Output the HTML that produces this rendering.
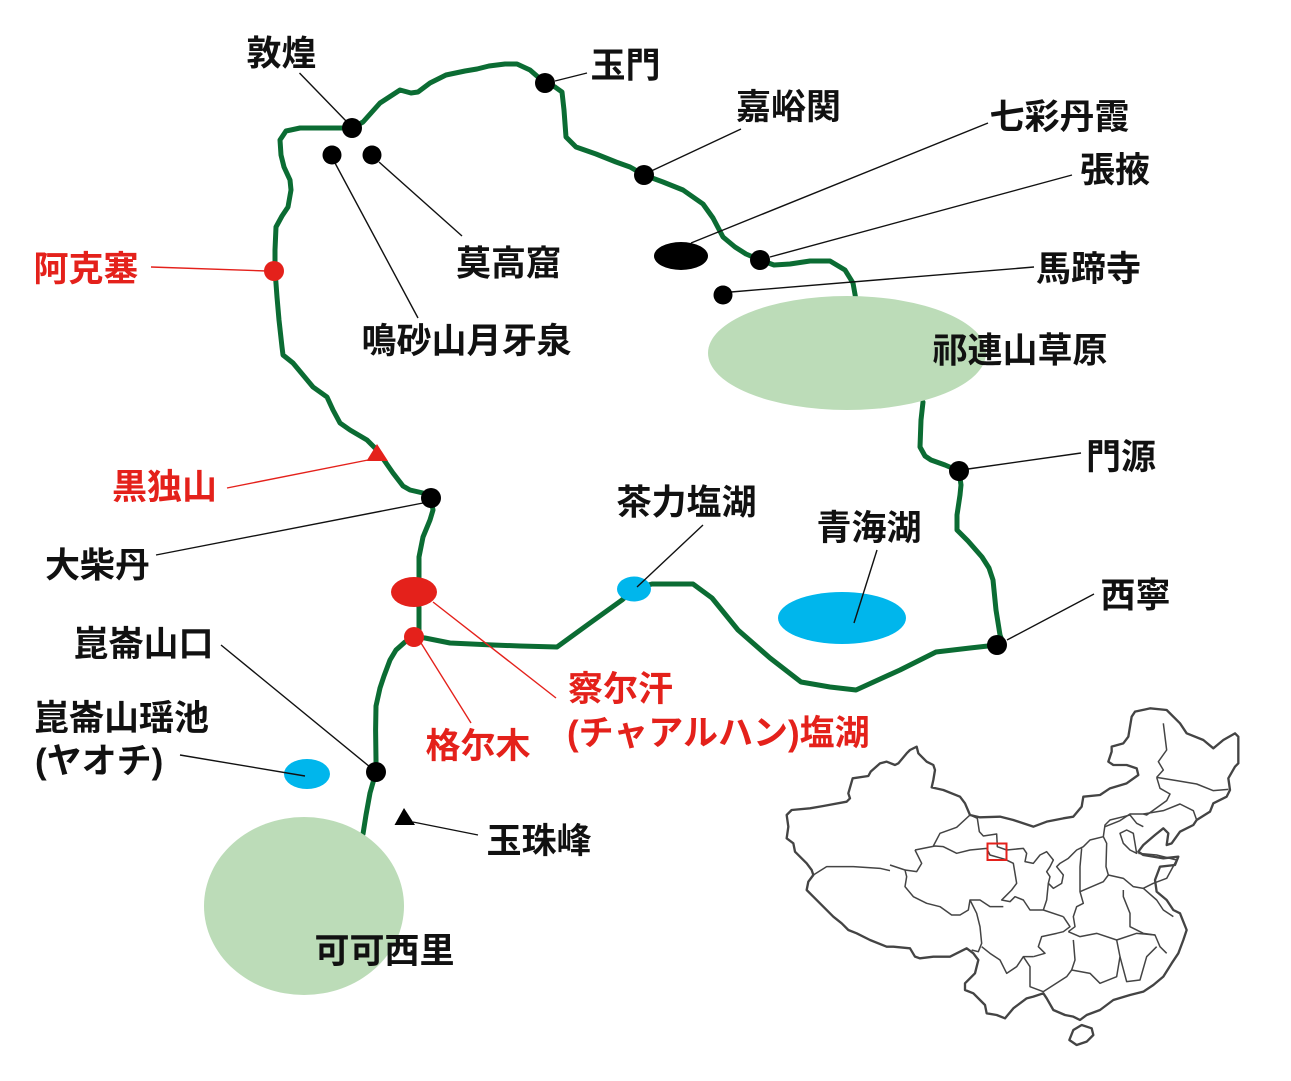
<!DOCTYPE html>
<html><head><meta charset="utf-8"><style>
html,body{margin:0;padding:0;background:#fff;}
svg{display:block;}
text{font-family:"Liberation Sans","Noto Sans CJK JP",sans-serif;font-weight:700;font-size:35px;}
.k{fill:#111;}
.r{fill:#e4211b;}
</style></head><body>
<svg width="1291" height="1081" viewBox="0 0 1291 1081" xmlns="http://www.w3.org/2000/svg">
<rect width="1291" height="1081" fill="#fff"/>
<!-- route -->
<g fill="none" stroke="#0b6c33" stroke-width="5" stroke-linejoin="round" stroke-linecap="round">
<path d="M363,834 L366,815 L370,793 L376,772 L376,760 L375.6,730 L376,706 L380,688 L384,676 L390,660 L396,650 L405,642 L414,637 L419,630 L419,607 L414,592 L419,580 L419,557 L423,537 L430,520 L433,510 L431,499 L423,493 L410,490 L403,486 L393,473 L377,450 L367,440 L350,430 L340,423 L333,410 L327,397 L313,387 L293,363 L283,355 L282,347 L279,320 L277,297 L275,270 L275,250 L276,227 L282,216 L288,207 L291,190 L290,180 L284,167 L281,155 L280,140 L286,131 L300,128 L343,128 L352,128 L363,122 L380,103 L400,90 L411,93 L418,92 L430,83 L446,75 L465,71 L477,69 L489,66 L505,64 L517,64 L530,70 L545,83 L555,87 L562,92 L564,110 L566,137 L576,147 L596,154 L616,162 L630,167 L644,175 L663,182 L683,190 L703,204 L713,218 L723,237 L735,247 L746,254 L760,260 L774,265 L790,264 L810,261 L830,261 L845,270 L853,283 L856,300"/>
<path d="M923,402 L921,420 L920,447 L925,456 L931,460 L945,465 L959,471 L961,485 L960,495 L957,515 L957,530 L968,541 L982,557 L989,568 L993,580 L996,610 L1000,635 L1003,643 L997,645 L970,648 L936,652 L900,670 L856,690 L830,687 L801,682 L770,658 L738,630 L712,598 L693,584 L670,584 L652,584 L634,589 L622,600 L590,623 L557,647 L520,646 L493,645 L450,643 L425,638 L414,637"/>
</g>
<!-- areas -->
<ellipse cx="847" cy="353" rx="139" ry="57" fill="#bcdcb8"/>
<ellipse cx="304" cy="906" rx="100" ry="89" fill="#bcdcb8"/>
<ellipse cx="634" cy="589" rx="17" ry="12.5" fill="#00b6ec"/>
<ellipse cx="842" cy="618" rx="64" ry="26" fill="#00b6ec"/>
<ellipse cx="307" cy="774" rx="23" ry="15" fill="#00b6ec"/>
<!-- leaders -->
<g stroke="#111" stroke-width="1.4" fill="none">
<line x1="299.5" y1="73" x2="347" y2="122"/>
<line x1="587" y1="73" x2="555" y2="81"/>
<line x1="741" y1="129" x2="647" y2="173"/>
<line x1="988" y1="123" x2="691" y2="243"/>
<line x1="1072" y1="175" x2="770" y2="257"/>
<line x1="1034" y1="267" x2="731" y2="292"/>
<line x1="379" y1="162" x2="462" y2="236"/>
<line x1="335" y1="163" x2="418" y2="318"/>
<line x1="1081" y1="453" x2="968" y2="469"/>
<line x1="156" y1="555" x2="423" y2="503"/>
<line x1="703" y1="525" x2="637" y2="587"/>
<line x1="877" y1="550" x2="854" y2="623"/>
<line x1="1094" y1="594" x2="1007" y2="640"/>
<line x1="221" y1="645" x2="370" y2="767"/>
<line x1="180" y1="755" x2="305" y2="776"/>
<line x1="413" y1="822" x2="478" y2="835"/>
</g>
<g stroke="#e4211b" stroke-width="1.4" fill="none">
<line x1="151" y1="267" x2="267" y2="271"/>
<line x1="227" y1="488" x2="373" y2="459"/>
<line x1="421" y1="643" x2="471" y2="723"/>
<line x1="433" y1="602" x2="556" y2="698"/>
</g>
<!-- dots -->
<g fill="#000">
<circle cx="352" cy="128" r="10"/>
<circle cx="332" cy="155" r="9.5"/>
<circle cx="372" cy="155" r="9.5"/>
<circle cx="545" cy="83" r="10"/>
<circle cx="644" cy="175" r="10"/>
<circle cx="760" cy="260" r="10"/>
<circle cx="723" cy="295" r="9.5"/>
<circle cx="959" cy="471" r="10"/>
<circle cx="997" cy="645" r="10"/>
<circle cx="431" cy="498" r="10"/>
<circle cx="376" cy="772" r="10"/>
<ellipse cx="681" cy="256" rx="27" ry="14"/>
<polygon points="404,808 394.5,825 415,825"/>
</g>
<g fill="#e4211b">
<circle cx="274" cy="271" r="10"/>
<circle cx="414" cy="637" r="10"/>
<ellipse cx="414" cy="592" rx="23" ry="15"/>
<polygon points="377,444 366.5,461 388,461"/>
</g>
<!-- labels -->
<text class="k" x="246.5" y="65.5">敦煌</text>
<text class="k" x="590.5" y="77.5">玉門</text>
<text class="k" x="736" y="119">嘉峪関</text>
<text class="k" x="989.5" y="129">七彩丹霞</text>
<text class="k" x="1080" y="182">張掖</text>
<text class="k" x="456" y="275.5">莫高窟</text>
<text class="r" x="33.5" y="281">阿克塞</text>
<text class="k" x="1036" y="281">馬蹄寺</text>
<text class="k" x="361.5" y="353">鳴砂山月牙泉</text>
<text class="k" x="932.5" y="362.5">祁連山草原</text>
<text class="k" x="1086" y="469">門源</text>
<text class="r" x="112" y="499">黒独山</text>
<text class="k" x="616.5" y="514.5">茶力塩湖</text>
<text class="k" x="816.5" y="540">青海湖</text>
<text class="k" x="45" y="577.5">大柴丹</text>
<text class="k" x="1100.5" y="607.5">西寧</text>
<text class="k" x="73.5" y="656">崑崙山口</text>
<text class="r" x="568" y="701">察尔汗</text>
<text class="k" x="34" y="730">崑崙山瑶池</text>
<text class="r" x="567" y="745">(チャアルハン)塩湖</text>
<text class="r" x="425.5" y="758">格尔木</text>
<text class="k" x="35" y="773">(ヤオチ)</text>
<text class="k" x="486.5" y="853">玉珠峰</text>
<text class="k" x="314.5" y="963">可可西里</text>
<!-- China inset -->
<g transform="translate(780,700) scale(0.33333)" fill="none" stroke="#444" stroke-linejoin="round">
<path stroke-width="7" fill="#fff" d="M20,345 L35,330 L90,325 L130,318 L200,305 L210,295 L205,280 L218,235 L265,228 L272,215 L300,190 L320,185 L345,195 L355,190 L380,160 L390,150 L410,140 L415,160 L440,185 L460,195 L465,210 L460,240 L455,262 L490,270 L540,290 L555,310 L570,345 L600,352 L660,350 L700,360 L760,380 L800,365 L850,355 L880,350 L905,320 L910,290 L960,285 L990,265 L1040,250 L1075,225 L1070,205 L1040,195 L1000,195 L985,185 L995,155 L995,140 L1030,130 L1045,110 L1055,50 L1065,35 L1110,25 L1160,30 L1200,70 L1220,100 L1270,120 L1300,145 L1330,120 L1365,100 L1375,110 L1375,190 L1365,200 L1345,235 L1350,270 L1340,290 L1300,310 L1290,335 L1250,360 L1240,375 L1200,395 L1175,430 L1160,435 L1165,400 L1150,385 L1125,405 L1090,435 L1075,455 L1090,465 L1150,475 L1195,470 L1185,495 L1140,500 L1125,540 L1130,575 L1160,600 L1180,630 L1200,640 L1210,665 L1220,690 L1210,720 L1195,760 L1175,790 L1150,830 L1120,855 L1090,875 L1050,885 L1000,900 L960,930 L920,945 L900,960 L880,950 L855,945 L820,930 L800,895 L790,880 L760,890 L740,895 L700,925 L675,955 L650,945 L620,940 L615,915 L600,900 L580,880 L555,870 L555,850 L585,820 L595,780 L580,760 L560,745 L510,770 L460,770 L420,775 L405,770 L390,745 L340,740 L320,740 L270,720 L230,700 L205,690 L185,670 L160,650 L130,620 L100,590 L80,570 L85,545 L100,525 L95,510 L80,490 L60,470 L45,455 L40,430 L20,415 L25,380 Z"/>
<path stroke-width="7" fill="#fff" d="M880,990 L905,975 L935,985 L940,1005 L920,1025 L890,1035 L868,1020 Z"/>
<g stroke-width="4.5">
<path d="M100,525 L140,500 L220,500 L300,505 L330,512"/>
<path d="M1150,70 L1160,150 L1135,185 L1150,210 L1130,232"/>
<path d="M1130,232 L1190,242 L1250,252 L1300,272 L1345,268"/>
<path d="M1090,342 L1150,332 L1200,312 L1240,332 L1250,360"/>
<path d="M1130,232 L1140,265 L1170,282 L1160,302 L1100,345 L1090,342 L1050,342 L1020,362 L975,380"/>
</g>
</g>
<g transform="translate(890,800) scale(0.33333)" fill="none" stroke="#444" stroke-width="4.5" stroke-linejoin="round">
<path d="M240,45 L262,55 L268,95 L280,108 L320,102 L322,140 L350,150 L400,145 L410,160 L405,185 L430,190 L450,165 L470,155 L490,180 L480,200 L470,215 L480,230 L475,250 L490,265 L515,250 L520,225 L500,200 L510,190 L535,175 L560,150 L580,140 L600,120 L640,110 L645,75 L660,60 L700,50 L720,45 L740,70 L760,80"/>
<path d="M75,150 L135,138 L160,140 L200,160 L240,150 L290,145 L300,165 L345,178 L370,190 L380,250 L365,270 L345,290 L335,300 L360,305 L375,290 L400,300 L420,330 L460,330 L520,350"/>
<path d="M130,138 L150,100 L200,82 L240,45"/>
<path d="M0,195 L45,210 L50,230 L45,260 L70,290 L110,310 L150,320 L185,345 L210,345 L235,330 L240,300 L270,300 L300,320 L340,320"/>
<path d="M45,210 L80,215 L95,190 L75,150"/>
<path d="M240,300 L260,340 L270,380 L275,430 L265,455 L245,450 M275,440 L300,460 L330,480 L350,520 L380,500 L400,470 L430,470"/>
<path d="M520,350 L540,380 L520,395 L500,400 L455,410 L445,440 L465,460 L430,470"/>
<path d="M475,250 L470,300 L460,330"/>
<path d="M575,145 L570,200 L570,275 L640,245 L655,225 L648,200 L650,130 L640,110"/>
<path d="M570,275 L580,310 L560,320 L550,350 L555,380 L535,395"/>
<path d="M655,225 L700,235 L730,260 L760,265 L790,250 L830,235 L860,180 L800,165 L745,160"/>
<path d="M700,270 L700,290 L720,340 L720,380 L760,400 L795,405"/>
<path d="M760,265 L800,300 L820,330 L850,350"/>
<path d="M535,395 L570,410 L620,400 L680,420 L740,400 L795,405 L810,440 L830,460"/>
<path d="M550,420 L555,480 L545,510 L600,520 L630,550 L680,530 L690,470 L680,420"/>
<path d="M690,470 L710,545 L750,540 L770,470 L800,440"/>
<path d="M400,470 L420,500 L420,560 L460,575 L530,530 L545,510"/>
<path d="M690,100 L710,90 L730,100 L735,130 L740,160 L720,150 L700,130 Z"/>
</g>
<rect x="987.5" y="843.5" width="19" height="16.5" fill="none" stroke="#e4211b" stroke-width="2"/>
</svg>
</body></html>
